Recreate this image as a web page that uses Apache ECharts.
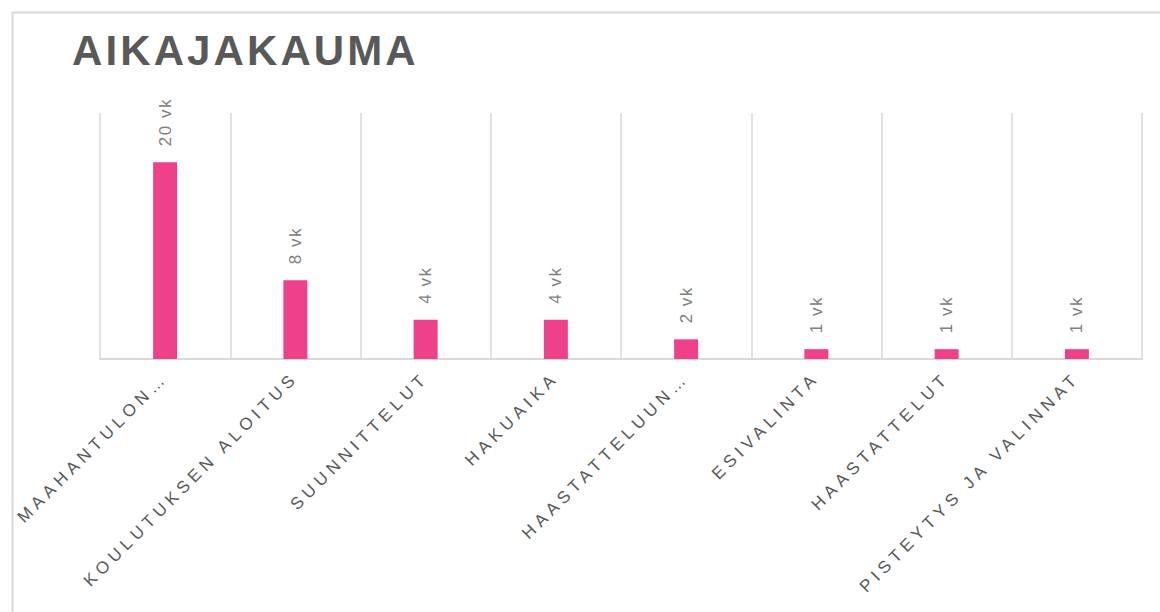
<!DOCTYPE html>
<html>
<head>
<meta charset="utf-8">
<script src="https://cdn.jsdelivr.net/npm/echarts@6/dist/echarts.min.js"></script>
<style>
  html, body { margin: 0; padding: 0; background: #fff; }
  #chart { width: 1160px; height: 612px; }
</style>
</head>
<body>
<div id="chart"></div>
<script>
const categories = [
    'MAAHANTULON…',
    'KOULUTUKSEN ALOITUS',
    'SUUNNITTELUT',
    'HAKUAIKA',
    'HAASTATTELUUN…',
    'ESIVALINTA',
    'HAASTATTELUT',
    'PISTEYTYS JA VALINNAT'
];
const weeks = [20, 8, 4, 4, 2, 1, 1, 1];
const unit = 'vk';

const chart = echarts.init(document.getElementById('chart'), null, { renderer: 'svg' });

const font = "'Liberation Sans', Arial, sans-serif";
const axisColor = '#595959';
const labelColor = '#808080';

chart.setOption({
    animation: false,
    title: {
        text: 'AIKAJAKAUMA',
        left: 72,
        top: 29,
        padding: 0,
        textStyle: { fontFamily: font, fontSize: 42, fontWeight: 'bold', color: axisColor }
    },
    graphic: [{
        type: 'rect',
        left: 10,
        top: 10,
        shape: { width: 1200, height: 700 },
        style: { fill: 'none', stroke: '#d9d9d9', lineWidth: 2 },
        silent: true
    }],
    grid: { left: 100, right: 18, top: 113, bottom: 253 },
    xAxis: {
        type: 'category',
        data: categories,
        axisTick: { show: false },
        axisLine: { lineStyle: { color: '#d9d9d9', width: 2 } },
        splitLine: { show: true, lineStyle: { color: '#d9d9d9', width: 1.5 } },
        axisLabel: {
            interval: 0,
            rotate: 45,
            margin: 16,
            fontFamily: font,
            fontSize: 17,
            color: axisColor
        }
    },
    yAxis: {
        type: 'value',
        min: 0,
        max: 25,
        show: false
    },
    series: [{
        type: 'bar',
        data: weeks,
        barWidth: 24,
        itemStyle: { color: '#EF4189' },
        label: {
            show: true,
            position: 'top',
            rotate: 90,
            align: 'left',
            verticalAlign: 'middle',
            distance: 16,
            fontFamily: font,
            fontSize: 17,
            color: labelColor,
            formatter: p => p.value + ' ' + unit
        }
    }]
});

// Excel-style letter spacing on the svg texts
function spaceLetters() {
    document.querySelectorAll('#chart svg text').forEach(t => {
        const size = parseFloat(getComputedStyle(t).fontSize);
        const fill = (t.getAttribute('fill') || '').toLowerCase();
        if (size >= 40) t.setAttribute('letter-spacing', '3.1');
        else if (fill === axisColor) t.setAttribute('letter-spacing', '4.8');
        else if (fill === labelColor) t.setAttribute('letter-spacing', '1.5');
    });
}
spaceLetters();
chart.on('finished', spaceLetters);
</script>
</body>
</html>
